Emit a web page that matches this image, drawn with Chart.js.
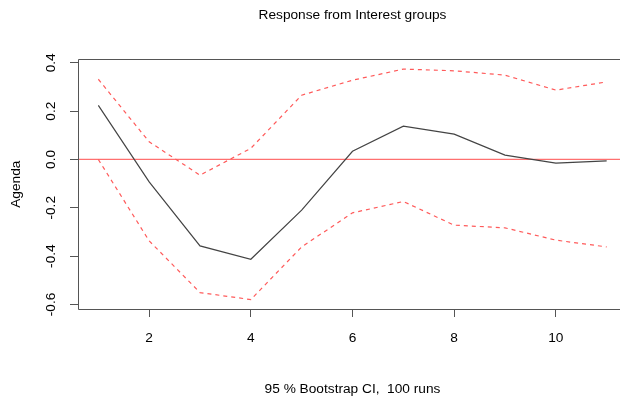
<!DOCTYPE html>
<html>
<head>
<meta charset="utf-8">
<script src="https://cdn.jsdelivr.net/npm/chart.js@4"></script>
<style>
  html, body { margin: 0; padding: 0; background: #fff; overflow: hidden; }
</style>
</head>
<body>
<canvas id="irfChart" width="627" height="402"></canvas>
<script>
// horizon steps and the three series
var steps = [1, 2, 3, 4, 5, 6, 7, 8, 9, 10, 11];
var response = [0.224, -0.093, -0.358, -0.413, -0.210, 0.034, 0.138, 0.105, 0.018, -0.015, -0.006];
var upperCI = [0.332, 0.073, -0.065, 0.046, 0.266, 0.328, 0.374, 0.367, 0.349, 0.287, 0.321];
var lowerCI = [0.000, -0.337, -0.551, -0.580, -0.362, -0.221, -0.174, -0.272, -0.283, -0.334, -0.362];
var xTicks = [2, 4, 6, 8, 10];
var yTicks = [-0.6, -0.4, -0.2, 0.0, 0.2, 0.4];

function toPoints(vals) {
  return steps.map(function(s, i) { return { x: s, y: vals[i] }; });
}

// box around the plot region (R style frame)
var frame = {
  id: 'frame',
  afterDraw: function(chart) {
    var a = chart.chartArea;
    var ctx = chart.ctx;
    ctx.save();
    ctx.strokeStyle = '#555';
    ctx.lineWidth = 1;
    ctx.beginPath();
    ctx.moveTo(Math.round(a.right) + 0.5, Math.round(a.top) + 0.5);
    ctx.lineTo(Math.round(a.left) + 0.5, Math.round(a.top) + 0.5);
    ctx.lineTo(Math.round(a.left) + 0.5, Math.round(a.bottom) + 0.5);
    ctx.lineTo(Math.round(a.right) + 0.5, Math.round(a.bottom) + 0.5);
    ctx.stroke();
    ctx.restore();
  }
};

var labelFont = { family: 'Liberation Sans', size: 13.7 };

var ctx = document.getElementById('irfChart').getContext('2d');
var irfChart = new Chart(ctx, {
  type: 'line',
  data: {
    datasets: [{
      label: 'Response',
      data: toPoints(response),
      borderColor: '#444',
      borderWidth: 1.2,
      pointRadius: 0,
      tension: 0
    }, {
      label: 'Upper',
      data: toPoints(upperCI),
      borderColor: '#ff5a5a',
      borderWidth: 1.2,
      borderDash: [4, 4],
      pointRadius: 0,
      tension: 0
    }, {
      label: 'Lower',
      data: toPoints(lowerCI),
      borderColor: '#ff5a5a',
      borderWidth: 1.2,
      borderDash: [4, 4],
      pointRadius: 0,
      tension: 0
    }, {
      label: 'Zero',
      data: [{ x: 0.6, y: 0 }, { x: 11.4, y: 0 }],
      borderColor: '#ff7070',
      borderWidth: 1.2,
      pointRadius: 0
    }]
  },
  options: {
    responsive: false,
    animation: false,
    events: [],
    layout: { padding: 0 },
    plugins: {
      legend: { display: false },
      tooltip: { enabled: false },
      title: {
        display: true,
        text: 'Response from Interest groups',
        fullSize: false,
        color: '#000',
        font: { family: 'Liberation Sans', size: 13.7, weight: 'normal' },
        padding: { top: 7, bottom: 36 }
      }
    },
    scales: {
      x: {
        type: 'linear',
        min: 0.6,
        max: 11.4,
        afterBuildTicks: function(scale) {
          scale.ticks = xTicks.map(function(v) { return { value: v }; });
        },
        afterFit: function(scale) { scale.height = 93; },
        border: { display: false },
        grid: { drawOnChartArea: false, drawTicks: true, tickLength: 8, color: '#555' },
        ticks: {
          color: '#000',
          padding: 13,
          maxRotation: 0,
          font: labelFont
        },
        title: {
          display: true,
          text: '95 % Bootstrap CI,  100 runs',
          color: '#000',
          font: labelFont,
          padding: { top: 0, bottom: 5 }
        }
      },
      y: {
        type: 'linear',
        min: -0.619,
        max: 0.414,
        afterBuildTicks: function(scale) {
          scale.ticks = yTicks.map(function(v) { return { value: v }; });
        },
        afterFit: function(scale) { scale.width = 78; },
        border: { display: false },
        grid: { drawOnChartArea: false, drawTicks: true, tickLength: 8, color: '#555' },
        ticks: {
          color: '#000',
          padding: 7,
          minRotation: 90,
          maxRotation: 90,
          crossAlign: 'center',
          font: labelFont,
          callback: function(v) { return v.toFixed(1); }
        },
        title: {
          display: true,
          text: 'Agenda',
          color: '#000',
          font: labelFont,
          padding: { top: 8, bottom: 0 }
        }
      }
    }
  },
  plugins: [frame]
});
</script>
</body>
</html>
